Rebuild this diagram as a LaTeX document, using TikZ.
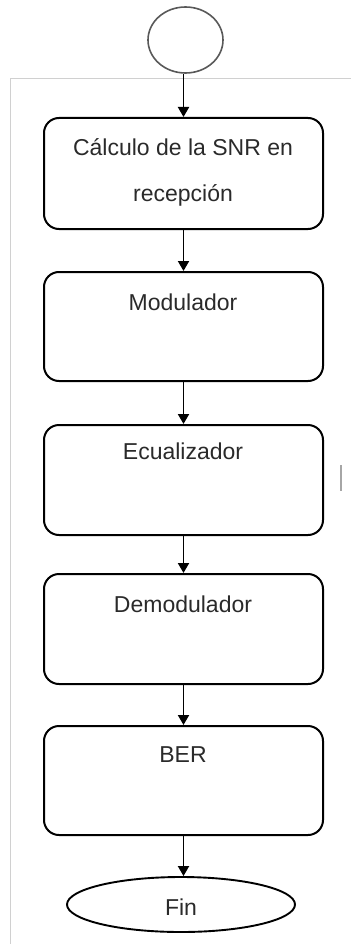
\documentclass[tikz,border=0pt]{standalone}
\usepackage{fontspec}
\setmainfont{Liberation Sans}
\usetikzlibrary{arrows.meta,shapes.geometric}
\definecolor{txt}{HTML}{2A2A2A}
\definecolor{framegray}{HTML}{D0D0D0}
\tikzset{
  stepbox/.style={draw=black, line width=2pt, rounded corners=15pt,
    minimum width=279pt, inner sep=0pt},
  lbl/.style={text=txt, inner sep=0pt, font=\fontsize{23}{27}\selectfont},
  flow/.style={draw=black, line width=1.9pt,
    -{Triangle[length=10pt,width=11pt]}},
}
\begin{document}
\begin{tikzpicture}[x=1pt,y=-1pt]
  \useasboundingbox (0,0) rectangle (351,944);
  % page frame lines
  \draw[framegray, line width=0.9pt] (10,944) -- (10,78) -- (351,78);
  \draw[gray!70, line width=1.2pt] (341,465) -- (341,491);

  % start terminal
  \node[draw=black!65, line width=1.6pt, ellipse, minimum width=75pt,
        minimum height=66pt, inner sep=0pt] (start) at (185.5,40) {};

  % process boxes
  \node[stepbox, minimum height=111pt] (b1) at (183.5,173.5) {};
  \node[stepbox, minimum height=109pt] (b2) at (183.5,326.5) {};
  \node[stepbox, minimum height=110pt] (b3) at (183.5,480) {};
  \node[stepbox, minimum height=110pt] (b4) at (183.5,629) {};
  \node[stepbox, minimum height=109pt] (b5) at (183.5,780.5) {};

  % end terminal
  \node[draw=black, line width=1.9pt, ellipse, minimum width=228pt,
        minimum height=55pt, inner sep=0pt] (fin) at (181,904.5) {};

  % labels
  \node[lbl] (t1a) at (183,147) {Cálculo de la SNR en};
  \node[lbl] (t1b) at (183,195) {recepción};
  \node[lbl] (t2) at (183,302) {Modulador};
  \node[lbl] (t3) at (183,451) {Ecualizador};
  \node[lbl] (t4) at (183,604) {Demodulador};
  \node[lbl] (t5) at (183,755) {BER};
  \node[lbl] (t6) at (181,907) {Fin};

  % connectors
  \draw[flow] (b1.north |- start.south) -- (b1.north);
  \draw[flow] (b1.south) -- (b2.north);
  \draw[flow] (b2.south) -- (b3.north);
  \draw[flow] (b3.south) -- (b4.north);
  \draw[flow] (b4.south) -- (b5.north);
  \draw[flow] (b5.south) -- (b5.south |- fin.north);
\end{tikzpicture}
\end{document}
